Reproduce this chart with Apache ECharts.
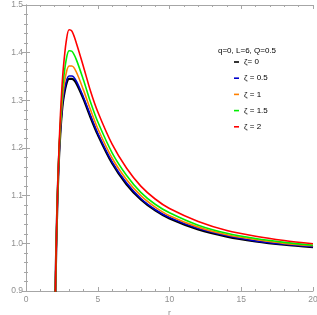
<!DOCTYPE html>
<html><head><meta charset="utf-8">
<script src="https://cdn.jsdelivr.net/npm/echarts@6/dist/echarts.min.js"></script>
<style>html,body{margin:0;padding:0;background:#fff}#c{width:317px;height:315px}</style>
</head><body><div id="c"></div>
<script>
const rValues = [2.0, 2.05, 2.1, 2.2, 2.3, 2.4, 2.5, 2.6, 2.8, 3.0, 3.2, 3.5, 4, 4.5, 5, 6, 7, 8, 9, 10, 12, 14, 16, 18, 20];
const zeta0   = [0.79, 0.90, 0.98, 1.100, 1.180, 1.235, 1.275, 1.302, 1.333, 1.345, 1.345, 1.336, 1.303, 1.264, 1.228, 1.168, 1.124, 1.092, 1.069, 1.052, 1.029, 1.014, 1.004, 0.997, 0.992];
const zeta05  = [0.79, 0.90, 0.98, 1.101, 1.182, 1.238, 1.279, 1.307, 1.339, 1.351, 1.351, 1.341, 1.307, 1.268, 1.231, 1.171, 1.127, 1.094, 1.071, 1.054, 1.031, 1.016, 1.005, 0.998, 0.993];
const zeta1   = [0.79, 0.90, 0.981, 1.103, 1.186, 1.245, 1.289, 1.320, 1.357, 1.372, 1.372, 1.360, 1.322, 1.280, 1.241, 1.179, 1.134, 1.100, 1.076, 1.058, 1.034, 1.018, 1.008, 1.000, 0.995];
const zeta15  = [0.79, 0.90, 0.983, 1.106, 1.192, 1.255, 1.304, 1.340, 1.385, 1.404, 1.403, 1.386, 1.343, 1.296, 1.255, 1.190, 1.143, 1.107, 1.082, 1.064, 1.038, 1.021, 1.010, 1.002, 0.996];
const zeta2   = [0.79, 0.90, 0.985, 1.110, 1.200, 1.270, 1.325, 1.367, 1.423, 1.448, 1.445, 1.421, 1.371, 1.319, 1.276, 1.208, 1.158, 1.120, 1.093, 1.073, 1.046, 1.027, 1.015, 1.006, 0.999];
const seriesNames = ['ζ= 0', 'ζ = 0.5', 'ζ = 1', 'ζ = 1.5', 'ζ = 2'];
const seriesColors = ['#000000', '#0000cc', '#ff8000', '#00ee00', '#ff0000'];
const seriesData = [zeta0, zeta05, zeta1, zeta15, zeta2];
const legendTitle = 'q=0, L=6, Q=0.5';

const chart = echarts.init(document.getElementById('c'), null, {renderer: 'canvas'});
const gray = '#a6a6a6';
const font = 'Liberation Sans, Arial, sans-serif';
const labelStyle = {color: '#909090', fontSize: 8.5, fontFamily: font};
const commonAxis = {
  axisLine: {show: true, lineStyle: {color: gray, width: 1}},
  axisTick: {show: true, inside: true, length: 4, lineStyle: {color: gray}},
  minorTick: {show: true, splitNumber: 5, length: 2, lineStyle: {color: gray}},
  splitLine: {show: false}
};
chart.setOption({
  animation: false,
  backgroundColor: '#fff',
  grid: {left: 26, right: 4, top: 5, bottom: 24, containLabel: false, outerBoundsMode: 'none'},
  title: {text: legendTitle, left: 218, top: 47, padding: 0,
    textStyle: {fontSize: 8, fontWeight: 'normal', color: '#000', fontFamily: font}},
  legend: {
    orient: 'vertical', left: 234, top: 57, padding: 0, itemWidth: 5, itemHeight: 1.6, itemGap: 6.2,
    icon: 'rect',
    textStyle: {fontSize: 8, lineHeight: 10, color: '#000', fontFamily: font},
    data: seriesNames
  },
  xAxis: [
    Object.assign({type: 'value', min: 0, max: 20, interval: 5, position: 'bottom',
      name: 'r', nameLocation: 'middle', nameGap: 13, nameTextStyle: labelStyle,
      axisLabel: Object.assign({margin: 4}, labelStyle)}, commonAxis),
    Object.assign({type: 'value', min: 0, max: 20, interval: 5, position: 'top',
      axisLabel: {show: false}}, commonAxis)
  ],
  yAxis: [
    Object.assign({type: 'value', min: 0.9, max: 1.5, interval: 0.1, position: 'left',
      name: 'V₊', nameLocation: 'middle', nameGap: 17, nameRotate: 90, nameTextStyle: labelStyle,
      axisLabel: Object.assign({margin: 3, formatter: v => v.toFixed(1)}, labelStyle)}, commonAxis),
    Object.assign({type: 'value', min: 0.9, max: 1.5, interval: 0.1, position: 'right',
      axisLabel: {show: false}}, commonAxis)
  ],
  series: seriesData.map((d, i) => ({
    name: seriesNames[i], type: 'line', xAxisIndex: 0, yAxisIndex: 0,
    data: rValues.map((r, k) => [r, d[k]]),
    smooth: 0.3, showSymbol: false, clip: true,
    lineStyle: {color: seriesColors[i], width: i === 0 ? 2.2 : 1.6},
    itemStyle: {color: seriesColors[i]}
  }))
});
</script></body></html>
